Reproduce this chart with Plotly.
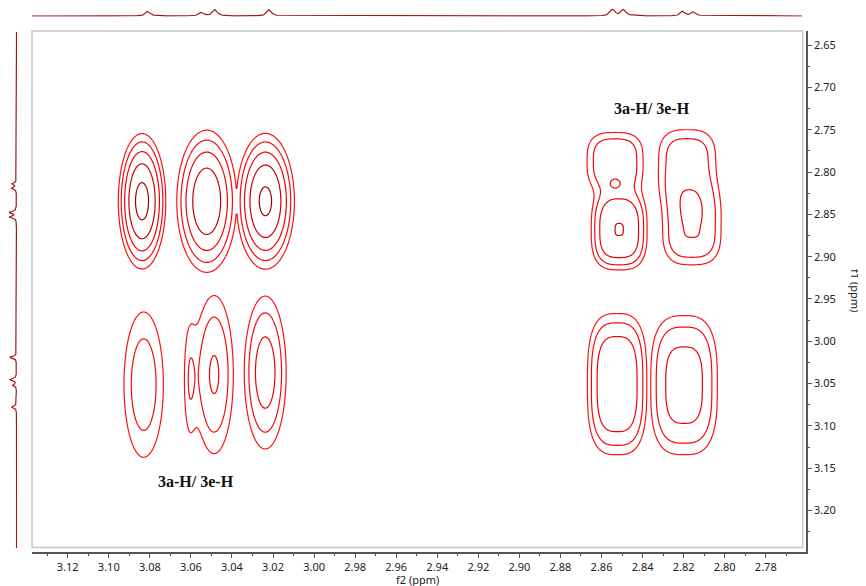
import numpy as np
import plotly.graph_objects as go

# ---------------- data ----------------
# 1D 1H projection: multiplet line positions (ppm) and relative heights
h1_shift = [3.0809, 3.0549, 3.0482, 3.0218, 2.8546, 2.8492, 2.8204, 2.8151]
h1_height = [0.67, 0.48, 0.90, 0.90, 0.95, 0.95, 0.67, 0.57]

# 2D cross peaks (f2 ppm, f1 ppm, relative intensity, widths in ppm, shape exponent, multiplet id)
cp_f2 = [3.0838, 3.0523, 3.0237, 3.0830, 3.0487, 3.0609, 3.0238,
         2.8534, 2.8514, 2.8534, 2.8183, 2.8160, 2.8524, 2.8198]
cp_f1 = [2.8345, 2.8345, 2.8345, 3.0512, 3.0393, 3.0464, 3.0369,
         2.7869, 2.8679, 2.8143, 2.7900, 2.8655, 3.0506, 3.0518]
cp_amp = [1.00, 0.80, 0.94, 0.30, 0.37, 0.16, 0.45,
          0.33, 0.552, 0.10, 0.30, 0.356, 0.52, 0.419]
cp_wf2 = [0.00585, 0.00784, 0.00726, 0.00784, 0.00677, 0.00244, 0.00672,
          0.01145, 0.00975, 0.00244, 0.01213, 0.0116, 0.01052, 0.01254]
cp_wf1 = [0.0405, 0.0452, 0.0413, 0.0702, 0.0675, 0.0595, 0.0595,
          0.0283, 0.0342, 0.0048, 0.0350, 0.0360, 0.0607, 0.0635]
cp_shape = [2, 2, 2, 2, 2, 2, 2, 3, 3, 2, 3, 3, 3, 3]
cp_group = [0, 1, 2, 3, 4, 4, 5, 6, 6, 6, 7, 7, 8, 9]

label_text = ["3a-H/ 3e-H", "3a-H/ 3e-H"]
label_f2 = [2.8355, 3.0574]
label_f1 = [2.7254, 3.1658]

# contour levels (geometric)
LEVEL_BASE = 0.142
LEVEL_FACTOR = 1.57
N_LEVELS = 5

# page body has an 8px margin: draw on an 858x578 figure placed at (8, 8)
OFF = 8
W, H = 866 - OFF, 586 - OFF
X_RANGE = [3.1374, 2.7604]
Y_RANGE = [3.2490, 2.6333]


def fx(px):
    return (px - OFF) / W


def fy(py):
    return (586 - py) / H


def field(xg, yg):
    X, Y = np.meshgrid(xg, yg)
    groups = {}
    for f2, f1, a, wx, wy, p, g in zip(cp_f2, cp_f1, cp_amp, cp_wf2, cp_wf1, cp_shape, cp_group):
        v = a * np.exp(-0.5 * (np.abs((X - f2) / wx) ** p + np.abs((Y - f1) / wy) ** p))
        groups[g] = groups.get(g, 0) + v
    z = np.maximum.reduce(list(groups.values()))
    return np.log(z + 1e-12)


lv0 = np.log(LEVEL_BASE)
dl = np.log(LEVEL_FACTOR)
lv1 = lv0 + (N_LEVELS - 1) * dl

fig = go.Figure()

regions = [(np.linspace(2.985, 3.118, 330), np.linspace(2.69, 3.18, 480)),
           (np.linspace(2.775, 2.880, 260), np.linspace(2.69, 3.18, 480))]
for xg, yg in regions:
    z = field(xg, yg)
    fig.add_trace(go.Contour(
        x=xg, y=yg, z=z, xaxis="x", yaxis="y",
        contours=dict(start=lv0, end=lv1 + 1e-6, size=dl, coloring="lines"),
        colorscale=[[0, "#ff1010"], [0.5, "#f00000"], [0.75, "#c80000"], [1, "#a00000"]],
        zauto=False, zmin=lv0, zmax=lv1,
        line=dict(width=1.2), showscale=False, hoverinfo="skip"))

# 1D projections
def spectrum(ppm):
    s = np.zeros_like(ppm)
    for c, h in zip(h1_shift, h1_height):
        s += h / (1 + ((ppm - c) / 0.0013) ** 2)
    return s

px = np.linspace(2.7623, 3.1374, 3000)
fig.add_trace(go.Scatter(x=px, y=spectrum(px), xaxis="x2", yaxis="y2", mode="lines",
                         line=dict(color="#a01818", width=1.2), hoverinfo="skip"))
py = np.linspace(2.6345, 3.2488, 3000)
fig.add_trace(go.Scatter(x=spectrum(py), y=py, xaxis="x3", yaxis="y3", mode="lines",
                         line=dict(color="#a01818", width=1.2), hoverinfo="skip"))

tickfont = dict(family="Noto Sans", size=11, color="#222")
hidden = dict(visible=False, automargin=False, showgrid=False, zeroline=False)
fig.update_layout(
    width=W, height=H, margin=dict(l=0, r=0, t=0, b=0, pad=0, autoexpand=False),
    plot_bgcolor="white", paper_bgcolor="white", showlegend=False,
    xaxis=dict(domain=[fx(32), fx(806)], range=X_RANGE, anchor="y", automargin=False,
               dtick=0.02, tick0=0, tickformat=".2f", ticks="outside", ticklen=4,
               tickwidth=1, tickcolor="#555", showline=True, linecolor="#555", linewidth=1.5,
               showgrid=False, zeroline=False, tickfont=tickfont,
               minor=dict(dtick=0.01, ticks="outside", ticklen=2, tickcolor="#555", showgrid=False)),
    yaxis=dict(domain=[fy(552), fy(31)], range=Y_RANGE, anchor="x", side="right",
               automargin=False,
               dtick=0.05, tick0=0, tickformat=".2f", ticks="outside", ticklen=4,
               tickwidth=1, tickcolor="#555", showline=True, linecolor="#555", linewidth=1.5,
               showgrid=False, zeroline=False, tickfont=tickfont,
               minor=dict(dtick=0.025, ticks="outside", ticklen=2, tickcolor="#555", showgrid=False)),
    xaxis2=dict(domain=[fx(32), fx(802)], range=[3.1374, 2.7623], anchor="y2", **hidden),
    yaxis2=dict(domain=[fy(16.7), fy(8.65)], range=[-0.1, 1.05], anchor="x2", **hidden),
    xaxis3=dict(domain=[fx(8.6), fx(17.3)], range=[1.05, -0.1], anchor="y3", **hidden),
    yaxis3=dict(domain=[fy(548), fy(32)], range=[3.2488, 2.6345], anchor="x3", **hidden),
)

fig.add_shape(type="rect", xref="paper", yref="paper",
              x0=fx(32), x1=fx(802.7), y0=fy(547.5), y1=fy(31),
              line=dict(color="#c8c8c8", width=1.5), layer="below")

for t, xx, yy in zip(label_text, label_f2, label_f1):
    fig.add_annotation(x=xx, y=yy, xref="x", yref="y", text="<b>" + t + "</b>", showarrow=False,
                       font=dict(family="Liberation Serif", size=16, color="#111"))

fig.add_annotation(x=fx(417), y=fy(579.5), xref="paper", yref="paper", text="f2 (ppm)",
                   xanchor="center", yanchor="middle", showarrow=False, font=tickfont)
fig.add_annotation(x=fx(856), y=fy(290), xref="paper", yref="paper", text="f1 (ppm)",
                   xanchor="center", yanchor="middle", showarrow=False, textangle=90, font=tickfont)

fig.write_html("out.html")
